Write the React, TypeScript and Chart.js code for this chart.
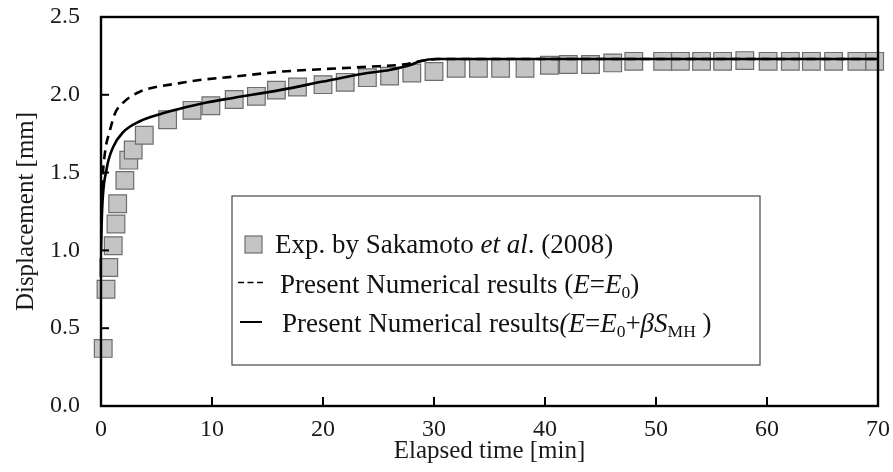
import React, { useEffect, useRef } from 'react';
import { Chart, registerables } from 'chart.js';

Chart.register(...registerables);

// ---- data ----
const expTime = [0.2, 0.45, 0.7, 1.1, 1.35, 1.5, 2.15, 2.5, 2.9, 3.9, 6.0, 8.2, 9.9, 12.0, 14.0, 15.8, 17.7, 20.0, 22.0, 24.0, 26.0, 28.0, 30.0, 32.0, 34.0, 36.0, 38.2, 40.4, 42.1, 44.1, 46.1, 48.0, 50.6, 52.2, 54.1, 56.0, 58.0, 60.1, 62.1, 64.0, 66.0, 68.1, 69.7];
const expDisp = [0.37, 0.75, 0.89, 1.03, 1.17, 1.30, 1.45, 1.58, 1.645, 1.74, 1.84, 1.90, 1.93, 1.97, 1.99, 2.03, 2.05, 2.065, 2.08, 2.11, 2.12, 2.14, 2.15, 2.17, 2.17, 2.17, 2.17, 2.19, 2.195, 2.195, 2.205, 2.215, 2.215, 2.215, 2.215, 2.215, 2.22, 2.215, 2.215, 2.215, 2.215, 2.215, 2.215];

const solidTime = [0, 0.1, 0.5, 1.1, 2.0, 3.5, 5.3, 7.1, 9.5, 11.9, 16.1, 20, 24, 26, 28, 28.7, 30.3, 40, 50, 60, 70];
const solidDisp = [1.0, 1.26, 1.52, 1.665, 1.76, 1.83, 1.875, 1.91, 1.95, 1.98, 2.03, 2.085, 2.14, 2.16, 2.195, 2.215, 2.23, 2.23, 2.23, 2.23, 2.23];

const dashTime = [0, 0.1, 0.36, 0.8, 1.26, 2.0, 3.5, 7.1, 8.9, 12, 16.1, 20, 24, 27.6, 28.7, 30.3, 40, 50, 60, 70];
const dashDisp = [1.2, 1.41, 1.63, 1.77, 1.88, 1.95, 2.02, 2.075, 2.095, 2.117, 2.148, 2.165, 2.18, 2.198, 2.215, 2.23, 2.23, 2.23, 2.23, 2.23];

const xTickValues = [0, 10, 20, 30, 40, 50, 60, 70];
const yTickValues = [0, 0.5, 1.0, 1.5, 2.0, 2.5];
const xTitle = 'Elapsed time [min]';
const yTitle = 'Displacement [mm]';

type Run = { t: string; i?: boolean; sub?: boolean };
const legendRows: Run[][] = [
  [{ t: 'Exp. by Sakamoto ' }, { t: 'et al', i: true }, { t: '. (2008)' }],
  [{ t: 'Present Numerical results (' }, { t: 'E', i: true }, { t: '=' }, { t: 'E', i: true }, { t: '0', sub: true }, { t: ')' }],
  [{ t: 'Present Numerical results' }, { t: '(', i: true }, { t: 'E', i: true }, { t: '=' }, { t: 'E', i: true }, { t: '0', sub: true }, { t: '+' }, { t: 'β', i: true }, { t: 'S', i: true }, { t: 'MH', sub: true }, { t: ' )' }],
];

const FONT = "'Liberation Serif', 'Times New Roman', serif";

function drawRuns(ctx: CanvasRenderingContext2D, runs: Run[], x: number, y: number, size: number) {
  let cx = x;
  for (const r of runs) {
    const fs = r.sub ? size * 0.65 : size;
    ctx.font = `${r.i ? 'italic ' : ''}${fs}px ${FONT}`;
    const dy = r.sub ? size * 0.2 : 0;
    ctx.fillText(r.t, cx, y + dy);
    cx += ctx.measureText(r.t).width;
  }
}

const framePlugin = {
  id: 'frameAndLegend',
  afterDraw(chart: any) {
    const { ctx, chartArea: ca, scales } = chart;
    const xs = scales.x;
    const ys = scales.y;
    ctx.save();
    // frame
    ctx.strokeStyle = '#000';
    ctx.lineWidth = 2.4;
    ctx.strokeRect(ca.left, ca.top, ca.right - ca.left, ca.bottom - ca.top);
    // inward ticks
    ctx.lineWidth = 2;
    for (const v of yTickValues) {
      if (v === yTickValues[0] || v === yTickValues[yTickValues.length - 1]) continue;
      const py = ys.getPixelForValue(v);
      ctx.beginPath();
      ctx.moveTo(ca.left, py);
      ctx.lineTo(ca.left + 8, py);
      ctx.stroke();
    }
    for (const v of xTickValues) {
      if (v === xTickValues[0] || v === xTickValues[xTickValues.length - 1]) continue;
      const px = xs.getPixelForValue(v);
      ctx.beginPath();
      ctx.moveTo(px, ca.bottom);
      ctx.lineTo(px, ca.bottom - 9);
      ctx.stroke();
    }
    // legend box
    const bx = ca.left + 131;
    const by = ca.top + 179;
    const bw = 528;
    const bh = 169;
    ctx.fillStyle = '#fff';
    ctx.fillRect(bx, by, bw, bh);
    ctx.strokeStyle = '#555';
    ctx.lineWidth = 1.3;
    ctx.strokeRect(bx, by, bw, bh);

    const fs = 27;
    const baselines = [by + 57, by + 96.5, by + 136];
    const textX = [bx + 43, bx + 48, bx + 50];
    // row 1 sample: square
    ctx.fillStyle = '#c4c4c4';
    ctx.strokeStyle = '#6e6e6e';
    ctx.lineWidth = 1.2;
    ctx.fillRect(bx + 13, baselines[0] - 17, 17, 17);
    ctx.strokeRect(bx + 13, baselines[0] - 17, 17, 17);
    // row 2 sample: dashed
    ctx.strokeStyle = '#000';
    ctx.lineWidth = 1.6;
    ctx.setLineDash([6, 3.5]);
    ctx.beginPath();
    ctx.moveTo(bx + 6, baselines[1] - 10);
    ctx.lineTo(bx + 31, baselines[1] - 10);
    ctx.stroke();
    ctx.setLineDash([]);
    // row 3 sample: solid
    ctx.lineWidth = 2;
    ctx.beginPath();
    ctx.moveTo(bx + 8, baselines[2] - 10);
    ctx.lineTo(bx + 30, baselines[2] - 10);
    ctx.stroke();

    ctx.fillStyle = '#111';
    ctx.textBaseline = 'alphabetic';
    ctx.textAlign = 'left';
    legendRows.forEach((runs, i) => drawRuns(ctx, runs, textX[i], baselines[i], fs));
    ctx.restore();
  },
};

export default function App() {
  const ref = useRef<HTMLCanvasElement | null>(null);
  useEffect(() => {
    if (!ref.current) return;
    const chart = new Chart(ref.current, {
      type: 'scatter',
      data: {
        datasets: [
          {
            type: 'line',
            label: 'solid',
            data: solidTime.map((t, i) => ({ x: t, y: solidDisp[i] })),
            borderColor: '#000',
            borderWidth: 2.6,
            pointRadius: 0,
            fill: false,
            cubicInterpolationMode: 'monotone',
            order: 1,
          },
          {
            type: 'line',
            label: 'dashed',
            data: dashTime.map((t, i) => ({ x: t, y: dashDisp[i] })),
            borderColor: '#000',
            borderWidth: 2.6,
            borderDash: [9, 6],
            pointRadius: 0,
            fill: false,
            cubicInterpolationMode: 'monotone',
            order: 2,
          },
          {
            type: 'scatter',
            label: 'exp',
            data: expTime.map((t, i) => ({ x: t, y: expDisp[i] })),
            pointStyle: 'rect',
            pointRadius: 12.5,
            backgroundColor: '#c4c4c4',
            borderColor: '#6e6e6e',
            borderWidth: 1.2,
            clip: false,
            order: 3,
          } as any,
        ],
      },
      options: {
        animation: false,
        responsive: false,
        devicePixelRatio: 1,
        layout: { padding: { top: 17, right: 15, left: 0, bottom: 0 } },
        plugins: { legend: { display: false }, tooltip: { enabled: false } },
        scales: {
          x: {
            type: 'linear',
            min: 0,
            max: 70,
            afterFit: (s: any) => { s.height = 66; s.paddingLeft = 0; s.paddingRight = 0; },
            afterBuildTicks: (s: any) => { s.ticks = xTickValues.map((v) => ({ value: v })); },
            grid: { display: false, drawTicks: false },
            border: { display: false },
            ticks: { color: '#1a1a1a', padding: 9, maxRotation: 0, font: { family: FONT, size: 24 }, callback: (v: any) => String(v) },
            title: { display: true, text: xTitle, color: '#1a1a1a', font: { family: FONT, size: 25 }, padding: { top: 0, bottom: 6 } },
          },
          y: {
            type: 'linear',
            min: 0,
            max: 2.5,
            afterFit: (s: any) => { s.width = 101; s.paddingTop = 0; s.paddingBottom = 0; },
            afterBuildTicks: (s: any) => { s.ticks = yTickValues.map((v) => ({ value: v })); },
            grid: { display: false, drawTicks: false },
            border: { display: false },
            ticks: { color: '#1a1a1a', padding: 21, font: { family: FONT, size: 24 }, callback: (v: any) => Number(v).toFixed(1) },
            title: { display: true, text: yTitle, color: '#1a1a1a', font: { family: FONT, size: 25 }, padding: { top: 11, bottom: 0 } },
          },
        },
      },
      plugins: [framePlugin],
    } as any);
    return () => chart.destroy();
  }, []);
  return (
    <div style={{ position: 'absolute', left: 0, top: 0, width: 893, height: 472, background: '#fff' }}>
      <canvas ref={ref} width={893} height={472} />
    </div>
  );
}
